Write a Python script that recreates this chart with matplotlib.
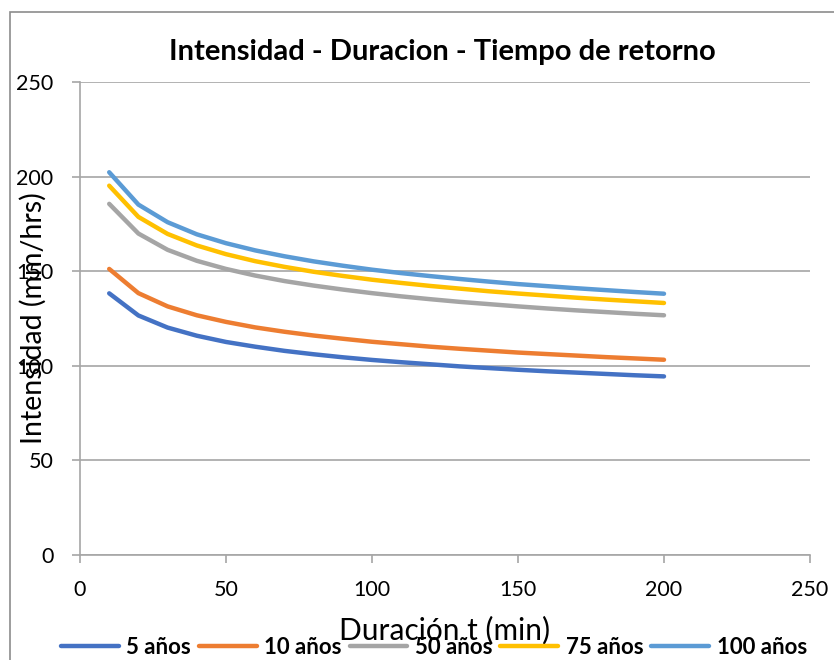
import matplotlib
matplotlib.use("Agg")
import matplotlib.pyplot as plt
from matplotlib.patches import Rectangle

plt.rcParams["font.family"] = ["Lato", "DejaVu Sans"]

# duration (min) and intensity (mm/hrs)
t = [10, 20, 30, 40, 50, 60, 70, 80, 90, 100,
     110, 120, 130, 140, 150, 160, 170, 180, 190, 200]
i_5 = [138.3, 126.6, 120.2, 115.9, 112.6, 110.1, 107.9, 106.1, 104.5, 103.1,
       101.9, 100.8, 99.7, 98.8, 97.9, 97.1, 96.4, 95.7, 95.0, 94.4]
i_10 = [151.2, 138.4, 131.4, 126.7, 123.2, 120.3, 118.0, 116.0, 114.3, 112.7,
        111.4, 110.1, 109.0, 108.0, 107.0, 106.2, 105.4, 104.6, 103.9, 103.2]
i_50 = [185.6, 169.9, 161.3, 155.5, 151.2, 147.7, 144.8, 142.4, 140.3, 138.4,
        136.7, 135.2, 133.8, 132.6, 131.4, 130.3, 129.3, 128.4, 127.5, 126.7]
i_75 = [195.2, 178.7, 169.7, 163.6, 159.0, 155.3, 152.3, 149.7, 147.5, 145.5,
        143.8, 142.2, 140.8, 139.4, 138.2, 137.1, 136.0, 135.0, 134.1, 133.2]
i_100 = [202.3, 185.2, 175.9, 169.5, 164.8, 161.0, 157.9, 155.2, 152.9, 150.8,
         149.0, 147.4, 145.9, 144.5, 143.2, 142.1, 141.0, 140.0, 139.0, 138.1]

series = [("5 años", i_5, "#4472C4"),
          ("10 años", i_10, "#ED7D31"),
          ("50 años", i_50, "#A5A5A5"),
          ("75 años", i_75, "#FFC000"),
          ("100 años", i_100, "#5B9BD5")]

W, H = 834, 660
fig = plt.figure(figsize=(W / 100, H / 100), dpi=100)
ax = fig.add_axes([80 / W, 1 - 555 / H, 730 / W, 473 / H])

# chart area border
fig.patches.append(Rectangle((10 / W, -0.1), 1.2, 0.1 + (H - 12) / H,
                             transform=fig.transFigure, fill=False,
                             edgecolor="#8C8C8C", linewidth=1.2))

for label, vals, col in series:
    ax.plot(t, vals, color=col, linewidth=3.2, label=label,
            solid_capstyle="round")

ax.set_xlim(0, 250)
ax.set_ylim(0, 250)
ax.set_xticks(range(0, 251, 50))
ax.set_yticks(range(0, 251, 50))
ax.yaxis.grid(True, color="#A6A6A6", linewidth=1.2)
ax.set_axisbelow(True)
for s in ("top", "right"):
    ax.spines[s].set_visible(False)
for s in ("left", "bottom"):
    ax.spines[s].set_color("#A6A6A6")
    ax.spines[s].set_linewidth(1.2)
ax.tick_params(axis="both", colors="#A6A6A6", labelcolor="black",
               labelsize=15.5, length=6, width=1.2)
ax.tick_params(axis="y", pad=13)
ax.tick_params(axis="x", pad=12)

ax.set_ylabel("Intensidad (mm/hrs)", fontsize=20.5)
ax.yaxis.set_label_coords(-0.045, 0.5)
ax.set_xlabel("Duración t (min)", fontsize=21.5)
ax.xaxis.set_label_coords(0.5, -0.128)

fig.text(442 / W, 1 - 52 / H, "Intensidad - Duracion - Tiempo de retorno",
         ha="center", va="center", fontsize=21, fontweight="bold")

fig.legend(loc="center", bbox_to_anchor=(434 / W, 1 - 647 / H), ncol=5,
           frameon=False, prop={"size": 16, "weight": "bold"},
           handlelength=2.6, handletextpad=0.35, columnspacing=0.35,
           borderaxespad=0)

fig.savefig("out.png", dpi=100)
